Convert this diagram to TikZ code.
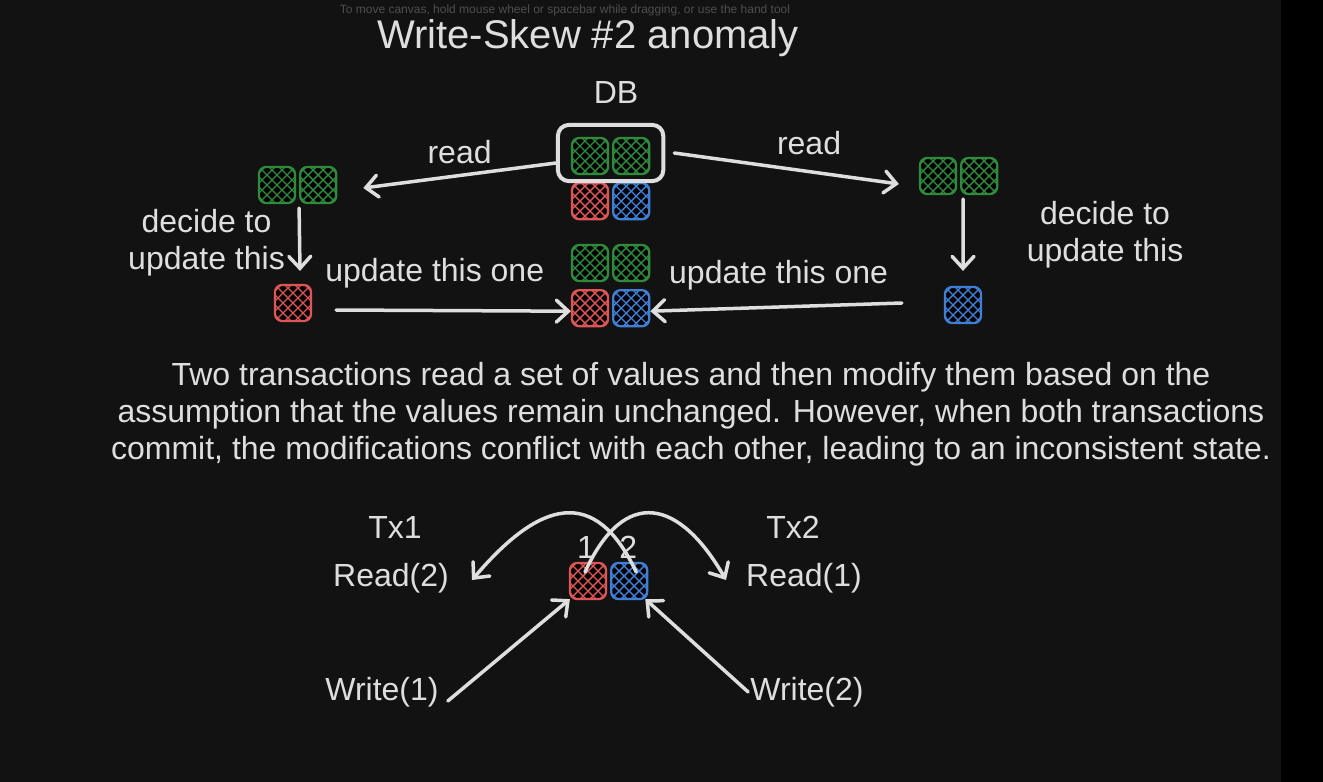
\documentclass[tikz,border=0pt]{standalone}
\usepackage{fontspec}
\setmainfont{Liberation Sans}
\usetikzlibrary{positioning,arrows.meta,fit}
\definecolor{bgdark}{HTML}{121212}
\definecolor{ink}{HTML}{DEDEDE}
\definecolor{hint}{HTML}{4E4E4E}
\definecolor{cgreen}{HTML}{2F8A3C}
\definecolor{cred}{HTML}{DD5555}
\definecolor{cblue}{HTML}{3F7FD6}
\begin{document}
\begin{tikzpicture}[x=1pt,y=-1pt, node distance=3pt,
  every node/.style={text=ink,inner sep=2pt,align=center,font=\fontsize{32}{37}\selectfont},
  cell/.style={draw=#1,line width=2.2pt,rounded corners=7pt,fill=black,minimum size=36pt,inner sep=0pt,
    path picture={\begin{scope}[shift={(path picture bounding box.center)}]
      \foreach \d in {-40,-30,...,40} {\draw[#1,line width=1.4pt] (\d-20,-20) -- (\d+20,20) (\d-20,20) -- (\d+20,-20);}
    \end{scope}}},
  frame/.style={draw=ink,line width=4pt,rounded corners=11pt,inner xsep=13pt,inner ysep=9pt},
  arr/.style={draw=ink,line width=3.5pt,line cap=round,-{Straight Barb[length=12pt,width=22pt,line cap=round]}}]
% background
\fill[bgdark] (0,0) rectangle (1281,782);
\fill[black] (1281,0) rectangle (1323,782);
\useasboundingbox (0,0) rectangle (1323,782);
\node[text=hint,font=\fontsize{12}{14}\selectfont] (hinttxt) at (565,10) {To move canvas, hold mouse wheel or spacebar while dragging, or use the hand tool};
\node[font=\fontsize{40}{46}\selectfont] (title) at (588,38) {Write-Skew \#2 anomaly};
% database
\node[cell=cgreen] (dbg1) at (590,156) {};
\node[cell=cgreen,right=of dbg1] (dbg2) {};
\node[cell=cred,below=7pt of dbg1] (dbr) {};
\node[cell=cblue,right=of dbr] (dbb) {};
\node[frame,fit=(dbg1)(dbg2),yshift=3pt] (db) {};
\node (dblbl) at (616,92) {DB};
% transaction copies
\node[cell=cgreen] (lg1) at (277,185) {};
\node[cell=cgreen,right=of lg1] (lg2) {};
\node[cell=cgreen] (rg1) at (938,176) {};
\node[cell=cgreen,right=of rg1] (rg2) {};
\node[cell=cred] (lr) at (293,303) {};
\node[cell=cblue] (rb) at (963,305) {};
% result
\node[cell=cgreen] (mg1) at (590,263) {};
\node[cell=cgreen,right=of mg1] (mg2) {};
\node[cell=cred,below=7pt of mg1] (mr) {};
\node[cell=cblue,right=of mr] (mb) {};
\draw[arr] ([yshift=-10pt]db.west) -- ([xshift=26pt,yshift=-3pt]lg2.east) node[pos=.5,above=8pt]{read};
\draw[arr] ([xshift=9pt]db.east) -- ([xshift=-20pt,yshift=-8pt]rg1.west) node[pos=.6,above=13pt]{read};
\draw[arr] ([yshift=-4pt]lg2.south west) -- ([xshift=7pt,yshift=13pt]lr.north) node[midway,left=11pt,yshift=-3pt]{decide to\\update this};
\draw[arr] ([xshift=3pt,yshift=-4pt]rg2.south west) -- ([yshift=15pt]rb.north) node[midway,right=60pt]{decide to\\update this};
\draw[arr] ([xshift=24pt,yshift=-7pt]lr.east) -- ([yshift=-3pt]mr.west) node[pos=.42,above=19pt]{update this one};
\draw[arr] ([xshift=-42pt,yshift=2pt]rb.west) -- ([yshift=-3pt]mb.east) node[pos=.49,above=13pt]{update this one};
% description
\node (desc) at (691,414) {Two transactions read a set of values and then modify them based on the\\assumption that the values remain unchanged. However, when both transactions\\commit, the modifications conflict with each other, leading to an inconsistent state.};
% interleaving
\node[cell=cred] (br) at (588,581) {};
\node[cell=cblue,right=of br] (bb) {};
\node[above=1pt of br,xshift=-2pt] (one) {1};
\node[above=1pt of bb,xshift=-1pt] (two) {2};
\node (tx1) at (395,527) {Tx1};
\node (rd2) at (391,578) {Read(2)};
\node (tx2) at (793,527) {Tx2};
\node (rd1) at (804,578) {Read(1)};
\node (wr1) at (382,692) {Write(1)};
\node (wr2) at (807,692) {Write(2)};
\draw[arr] ([shift={(7,-9)}]bb.center) .. controls (595,485) and (540,500) .. ([xshift=21pt,yshift=-2pt]rd2.east);
\draw[arr] ([shift={(-3,-9)}]br.center) .. controls (625,485) and (680,500) .. ([xshift=-18pt,yshift=-2pt]rd1.west);
\draw[arr] ([xshift=7pt,yshift=-9pt]wr1.east) -- ([xshift=1pt,yshift=1pt]br.south west);
\draw[arr] (wr2.west) -- ([xshift=-3pt,yshift=1pt]bb.south east);
\end{tikzpicture}
\end{document}
